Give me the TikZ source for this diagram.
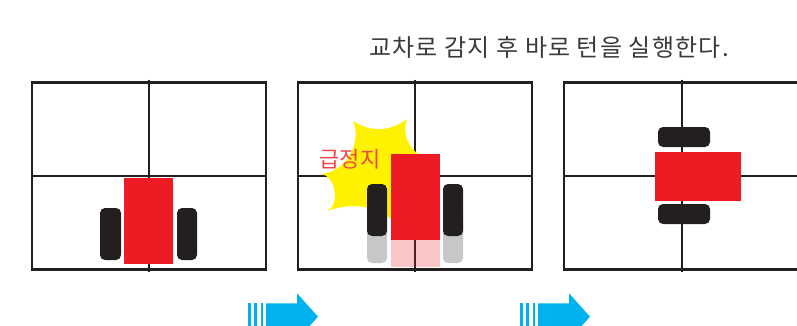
\documentclass[tikz,border=0pt]{standalone}
\usepackage{fontspec}
\newfontfamily\kofont{Noto Sans CJK KR}
\newfontfamily\kowide[LetterSpace=5]{Noto Sans CJK KR}
\definecolor{gridline}{HTML}{231F20}
\definecolor{carred}{HTML}{ED1C24}
\definecolor{tyre}{HTML}{231F20}
\definecolor{bang}{HTML}{FFF200}
\definecolor{moveblue}{HTML}{00B3EE}
\definecolor{captiongray}{HTML}{3A3A3A}
\definecolor{alertred}{HTML}{F04650}

\begin{document}
\begin{tikzpicture}[x=1pt,y=-1pt,
  grid/.style={draw=gridline,line width=2.3pt},
  body/.style={fill=carred},
  wheel/.style={fill=tyre,rounded corners=5pt},
  ghost/.style={opacity=0.25}]

\useasboundingbox (0,0) rectangle (797,326);
\clip (0,0) rectangle (797,326);

\node[anchor=west,inner sep=0pt,text=captiongray,font=\kowide\fontsize{24}{24}\selectfont] (title) at (369,47) {교차로 감지 후 바로 턴을 실행한다.};

% first box
\draw[grid] (32,82.5) rectangle (266,269.5);
\draw[grid] (32,176) -- (266,176);
\draw[grid] (149,80) -- (149,272);
\fill[body] (124,178) rectangle (173,264);
\fill[wheel] (100,208) rectangle (121,260);
\fill[wheel] (177,208) rectangle (197,260);

% second box
\draw[grid] (298,82.5) rectangle (532,269.5);
\draw[grid] (298,176) -- (532,176);
\draw[grid] (415,80) -- (415,272);
\fill[bang] (353,121) to[bend right=35] (407,119) to[bend right=45] (426,158)
  to[bend right=20] (398,224) to[bend right=30] (327,211)
  to[bend right=75] (321,174) to[bend right=55] (353,121) -- cycle;
\begin{scope}[ghost]
\fill[body] (391,181) rectangle (440,267);
\fill[wheel] (367,211) rectangle (387,263);
\fill[wheel] (443,211) rectangle (463,263);
\end{scope}
\fill[body] (391,154) rectangle (440,240);
\fill[wheel] (367,184) rectangle (387,236);
\fill[wheel] (443,184) rectangle (463,236);
\node[inner sep=0pt,text=alertred,font=\kofont\fontsize{22}{22}\selectfont] (stop) at (350,159) {급정지};

% third box
\draw[grid] (564,82.5) rectangle (798,269.5);
\draw[grid] (564,176) -- (798,176);
\draw[grid] (682,80) -- (682,272);
\fill[body] (655,152) rectangle (741,201);
\fill[wheel] (658,127) rectangle (710,147);
\fill[wheel] (658,204) rectangle (710,224);

% moving arrows
\foreach \dx in {0,272} {
  \begin{scope}[xshift=\dx,fill=moveblue]
  \fill (248.3,303.3) rectangle (250.7,330);
  \fill (254.3,303.3) rectangle (257,330);
  \fill (260.7,303.3) rectangle (263.3,330);
  \fill (266,303.3) -- (297,303.3) -- (297,293.3) -- (318,316.7) -- (297,340)
    -- (297,330) -- (266,330) -- cycle;
  \end{scope}
}

\end{tikzpicture}
\end{document}
